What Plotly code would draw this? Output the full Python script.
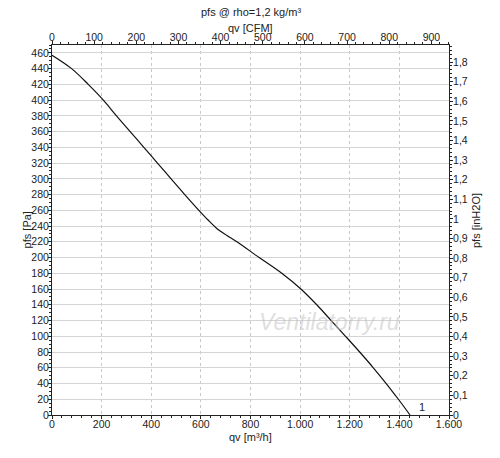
import plotly.graph_objects as go

# fan curve: flow [m3/h] vs static pressure [Pa]
qv_m3h = [0, 79, 146, 207, 260, 315, 370, 425, 480, 535, 592, 628, 664, 705, 745,
          835, 926, 1003, 1067, 1125, 1183, 1240, 1295, 1347, 1396, 1443]
pfs_pa = [457, 440, 420, 400, 380, 360, 340, 320, 300, 280, 260, 248, 237, 228, 220,
          200, 180, 160, 140, 120, 100, 80, 60, 40, 20, 0]

curve_label = "1"
watermark = "Ventilatorry.ru"

M3H_PER_CFM = 1.69901
PA_PER_INH2O = 249.089
X_MAX = 1600
Y_MAX = 470

FONT = "Liberation Sans, Arial, sans-serif"
AXIS_COL = "#222222"

fig = go.Figure()

fig.add_trace(go.Scatter(
    x=qv_m3h, y=pfs_pa, mode="lines",
    line=dict(color="#111111", width=1.2, shape="spline", smoothing=1.0),
    showlegend=False, hoverinfo="skip",
))

# invisible copy so the CFM / inH2O axes get drawn
fig.add_trace(go.Scatter(
    x=[q / M3H_PER_CFM for q in qv_m3h],
    y=[p / PA_PER_INH2O for p in pfs_pa],
    xaxis="x2", yaxis="y2", mode="lines", opacity=0,
    showlegend=False, hoverinfo="skip",
))

tick_font = dict(family=FONT, size=10.5, color="#222222")
common = dict(
    showline=True, linecolor=AXIS_COL, linewidth=1,
    ticks="outside", ticklen=3, tickcolor=AXIS_COL,
    tickfont=tick_font, zeroline=False, automargin=False,
)

# page body adds 8px on the top/left, so the figure is 8px smaller
fig.update_layout(
    width=492, height=450,
    margin=dict(l=44, r=51, t=37, b=43),
    paper_bgcolor="white", plot_bgcolor="white",
    separators=",.",
    font=dict(family=FONT, size=11, color="#222222"),
    xaxis=dict(
        range=[0, X_MAX], dtick=200, tick0=0, separatethousands=True,
        showgrid=True, gridcolor="#c8c8c8", griddash="dot", gridwidth=1,
        minor=dict(dtick=40, ticks="outside", ticklen=2, tickcolor=AXIS_COL),
        ticklabelstandoff=-4,
        **common,
    ),
    yaxis=dict(
        range=[0, Y_MAX], dtick=20, tick0=0,
        showgrid=True, gridcolor="#d4d4d4", gridwidth=1,
        minor=dict(dtick=5, ticks="outside", ticklen=2, tickcolor=AXIS_COL),
        ticklabelstandoff=-3,
        **common,
    ),
    xaxis2=dict(
        range=[0, X_MAX / M3H_PER_CFM], dtick=100, tick0=0,
        overlaying="x", side="top", showgrid=False,
        minor=dict(dtick=20, ticks="outside", ticklen=2, tickcolor=AXIS_COL),
        ticklabelstandoff=-4,
        **common,
    ),
    yaxis2=dict(
        range=[0, Y_MAX / PA_PER_INH2O], dtick=0.1, tick0=0,
        overlaying="y", side="right", showgrid=False,
        minor=dict(dtick=0.02, ticks="outside", ticklen=2, tickcolor=AXIS_COL),
        ticklabelstandoff=-2,
        **common,
    ),
)

txt = dict(family=FONT, size=11, color="#222222")


def label(text, x, y, angle=0):
    fig.add_annotation(text=text, xref="paper", yref="paper", x=x, y=y,
                       xanchor="center", yanchor="middle", textangle=angle,
                       showarrow=False, font=txt)


label("pfs @ rho=1,2 kg/m³", 0.5, 1.089)
label("qv [CFM]", 0.5, 1.046)
label("qv [m³/h]", 0.5, -0.059)
label("pfs [Pa]", -0.062, 0.50, -90)
label("pfs [inH2O]", 1.068, 0.527, -90)

fig.add_annotation(text=curve_label, x=1490, y=10, xref="x", yref="y",
                   xanchor="center", yanchor="middle", showarrow=False, font=txt)

# faint watermark
fig.add_annotation(text="<i>" + watermark + "</i>", xref="paper", yref="paper",
                   x=0.70, y=0.251, xanchor="center", yanchor="middle",
                   showarrow=False,
                   font=dict(family=FONT, size=23, color="rgba(195,195,195,0.55)"))

fig.write_html("out.html")
